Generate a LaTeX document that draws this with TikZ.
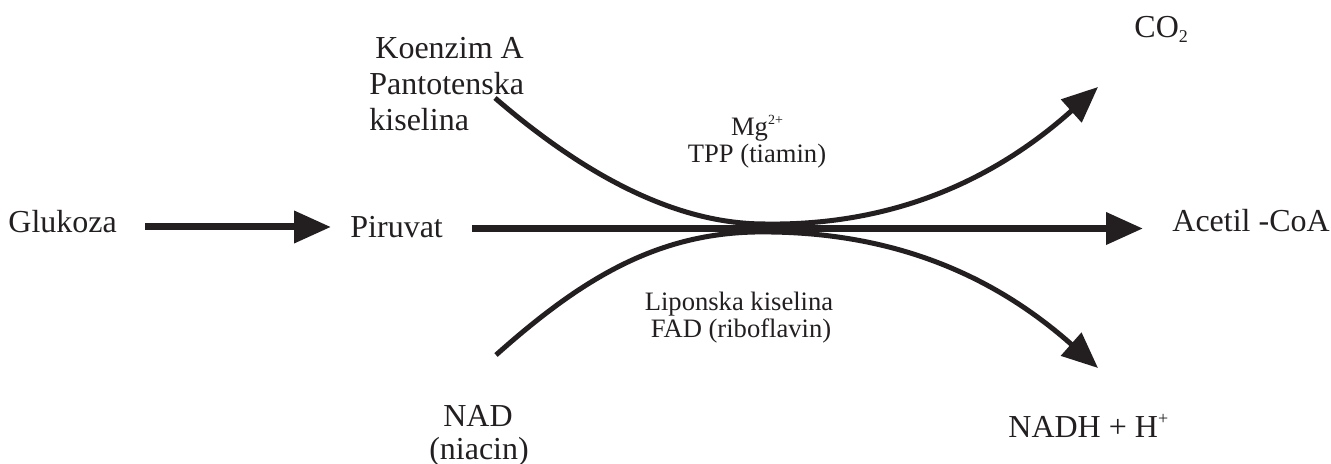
\documentclass[tikz,border=0pt]{standalone}
\usepackage{fontspec}
\setmainfont{Liberation Serif}
\usetikzlibrary{arrows.meta}
\definecolor{ink}{RGB}{35,31,32}
\begin{document}
\begin{tikzpicture}[x=0.5pt,y=-0.5pt,
  lbl/.style={inner sep=0pt,text=ink,font=\fontsize{16}{18}\selectfont},
  sml/.style={inner sep=0pt,text=ink,font=\fontsize{13.3}{15}\selectfont},
  thick arrow/.style={draw=ink,line width=3.5pt,-{Triangle[length=18.5pt,width=15.5pt]}},
  curve arrow/.style={draw=ink,line width=2.5pt,-{Triangle[length=18pt,width=15pt]}}]
\useasboundingbox (0,0) rectangle (1331,464);
% text
\node[lbl,anchor=base west] (glu) at (8,233) {Glukoza};
\node[lbl,anchor=base west] (pir) at (350,238) {Piruvat};
\node[lbl,anchor=base west] (acet) at (1172,232) {Acetil -CoA};
\node[lbl,anchor=base west] (co2) at (1134,38) {CO\raisebox{-2.5pt}{\fontsize{9}{9}\selectfont 2}};
\node[lbl,anchor=base west] (nadh) at (1008,437) {NADH + H\raisebox{6.5pt}{\fontsize{9}{9}\selectfont +}};
\node[lbl,anchor=base west] (koa1) at (375,59) {Koenzim A};
\node[lbl,anchor=base west] (koa2) at (369,95) {Pantotenska};
\node[lbl,anchor=base west] (koa3) at (369,131) {kiselina};
\node[lbl,anchor=base] (nad1) at (478,426) {NAD};
\node[lbl,anchor=base] (nad2) at (479,459) {(niacin)};
\node[sml,anchor=base] (mg) at (757,136) {Mg\raisebox{5.5pt}{\fontsize{7}{7}\selectfont 2+}};
\node[sml,anchor=base] (tpp) at (757,163) {TPP (tiamin)};
\node[sml,anchor=base] (lip) at (739,311) {Liponska kiselina};
\node[sml,anchor=base] (fad) at (741,337) {FAD (riboflavin)};
% connector end points
\coordinate (g0) at (145,227);
\coordinate (g1) at (331,227);
\coordinate (m0) at (472,228.5);
\coordinate (m1) at (1143,228.5);
\coordinate (u0) at (495,98);
\coordinate (um) at (765,224);
\coordinate (u1) at (1098,87);
\coordinate (l0) at (496,355);
\coordinate (lm) at (755,232);
\coordinate (l1) at (1098,368);
% arrows
\draw[thick arrow] (g0) -- (g1);
\draw[thick arrow] (m0) -- (m1);
\draw[curve arrow] (u0) .. controls (590,180) and (680,224) .. (um)
   .. controls (900,226) and (1000,175) .. (u1);
\draw[curve arrow] (l0) .. controls (580,280) and (655,234) .. (lm)
   .. controls (900,230) and (1000,281) .. (l1);
\end{tikzpicture}
\end{document}
